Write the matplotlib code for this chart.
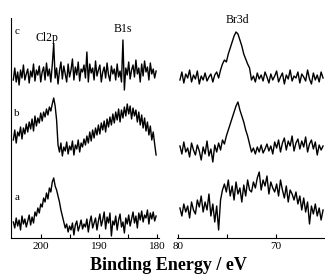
import numpy as np
import matplotlib
matplotlib.use("Agg")
import matplotlib.pyplot as plt

plt.rcParams['font.family'] = ['Liberation Serif', 'DejaVu Serif']

# Energy grids (eV)
energy_left = np.linspace(204.8, 180.2, 100)
energy_right = np.linspace(79.8, 65.2, 75)

# Left panel (Cl2p / B1s region), offset intensities (a.u.)
left_c = [160,172,158,168,155,170,162,175,160,166,
          171,157,169,163,176,159,170,165,174,158,
          168,173,160,177,164,171,158,175,196,162,
          172,156,169,178,161,174,166,158,176,163,
          170,181,160,173,165,178,159,171,168,175,
          162,188,158,176,167,172,160,179,164,170,
          175,158,168,173,162,177,165,159,174,166,
          171,160,176,163,169,158,200,150,172,165,
          178,161,170,175,163,180,166,172,158,176,
          164,179,168,173,160,177,166,171,162,169]
left_b = [100,110,97,108,104,113,101,112,106,116,
          108,118,111,121,109,124,114,122,117,127,
          119,128,123,131,125,133,129,136,142,134,
          120,95,88,97,84,93,89,98,86,94,
          90,99,85,95,91,100,88,97,93,101,
          95,104,97,108,99,110,102,112,105,115,
          106,117,110,119,108,121,113,123,115,126,
          117,128,120,131,118,130,122,133,124,136,
          126,134,121,132,124,130,118,128,115,125,
          112,122,109,118,105,114,100,108,96,85]
left_a = [18,12,22,14,20,10,24,16,21,13,
          19,25,15,23,17,28,24,32,27,36,
          33,42,38,47,41,52,48,58,62,54,
          50,44,38,30,24,18,12,16,8,14,
          10,17,5,15,19,9,14,20,11,16,
          13,21,8,18,24,12,17,22,10,19,
          26,14,20,28,11,23,17,27,4,19,
          15,24,10,20,26,13,18,7,22,16,
          25,14,21,28,17,24,12,27,20,29,
          18,25,22,30,16,27,21,28,19,24]

# Right panel (Br3d region)
right_c = [160,168,157,166,162,170,158,165,161,169,
           156,164,160,167,159,163,166,158,165,168,
           162,170,176,180,178,186,192,198,204,208,
           206,200,194,186,181,176,172,160,164,158,
           167,161,165,159,168,163,157,166,160,164,
           169,158,163,167,156,165,161,170,159,164,
           162,168,157,166,163,159,170,161,156,167,
           160,165,158,168,162]
right_b = [94,86,98,88,92,83,97,90,85,95,
           89,80,93,86,99,84,91,78,95,88,
           97,90,100,96,104,110,116,122,128,134,
           138,130,124,118,110,104,96,88,92,86,
           93,88,95,87,91,96,89,94,86,98,
           92,100,88,97,102,90,99,94,104,89,
           97,101,91,99,93,103,88,96,100,91,
           98,85,95,90,94]
right_a = [32,24,36,28,34,22,38,30,26,40,
           33,44,28,38,30,46,24,36,18,34,
           10,40,50,56,48,60,44,54,40,58,
           46,52,38,55,44,60,50,48,58,52,
           62,68,50,60,54,64,46,58,52,48,
           56,44,60,50,42,54,38,50,46,40,
           48,36,44,30,42,28,38,16,34,26,
           36,24,32,20,30]

left_ticks = [200, 190, 180]
right_ticks = [80, 70]
trace_names = ['c', 'b', 'a']
xlabel = 'Binding Energy / eV'

W, H = 325, 274
fig = plt.figure(figsize=(W / 100, H / 100), dpi=100)
ax1 = fig.add_axes([11 / W, (H - 238) / H, 148 / W, 220 / H])
ax2 = fig.add_axes([177 / W, (H - 238) / H, 148 / W, 220 / H])

lw = 1.0
for y in (left_c, left_b, left_a):
    ax1.plot(energy_left, y, color='black', lw=lw)
for y in (right_c, right_b, right_a):
    ax2.plot(energy_right, y, color='black', lw=lw)

ax1.set_xlim(205.2, 179.7)
ax2.set_xlim(80.1, 65.0)
for ax in (ax1, ax2):
    ax.set_ylim(2, 222)
    ax.set_yticks([])
    ax.spines['top'].set_visible(False)
    ax.spines['right'].set_visible(False)
    ax.tick_params(axis='x', direction='in', length=3, width=0.8,
                   labelsize=8, pad=3)
    ax.patch.set_alpha(0)
ax2.spines['left'].set_visible(False)

ax1.set_xticks(left_ticks)
ax1.set_xticks([195, 185], minor=True)
ax2.set_xticks(right_ticks)
ax2.set_xticks([75], minor=True)
for ax in (ax1, ax2):
    ax.tick_params(axis='x', which='minor', direction='in', length=3, width=0.8)

for name, yv in zip(trace_names, [208, 127, 43]):
    ax1.text(204.6, yv, name, fontsize=8, ha='left', va='center')

ax1.text(199.0, 202, 'Cl2p', fontsize=8.5, ha='center', va='center')
ax1.text(185.9, 211, 'B1s', fontsize=8.5, ha='center', va='center')
ax2.text(73.9, 220, 'Br3d', fontsize=8.5, ha='center', va='center')

fig.text(168 / W, 1 - 265 / H, xlabel, fontsize=13, fontweight='bold',
         ha='center', va='center')

fig.savefig('out.png', dpi=100)
